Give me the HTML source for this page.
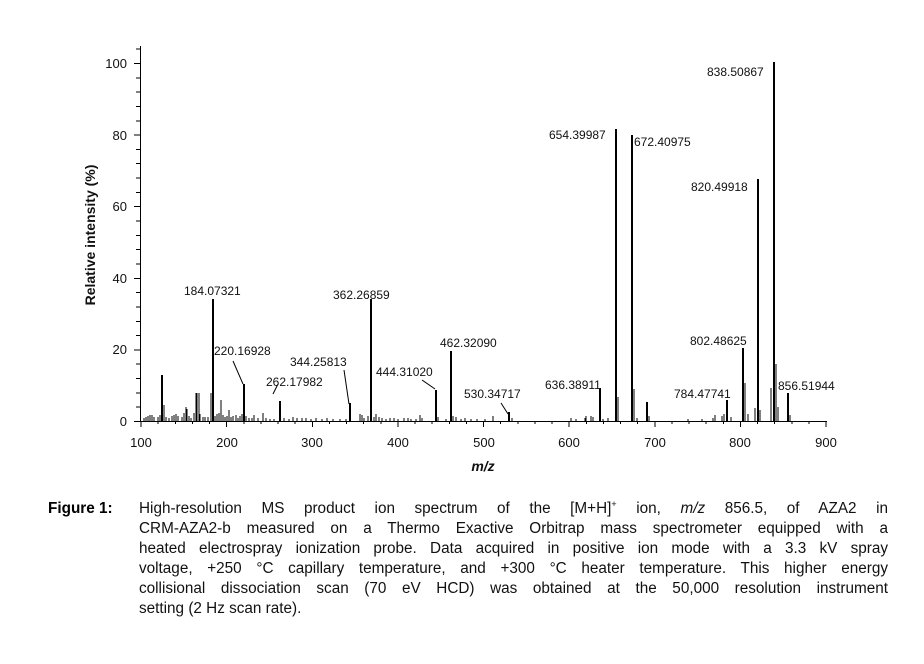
<!DOCTYPE html>
<html><head><meta charset="utf-8"><style>
body{margin:0;background:#fff;width:924px;height:664px;overflow:hidden;font-family:"Liberation Sans",Arial,sans-serif}
.cap{position:absolute;left:139px;width:749px;font-size:15.3px;line-height:20px;color:#111}
.cap div{text-align:justify;text-align-last:justify;white-space:nowrap}
.cap div.l{text-align-last:left}
</style></head><body>
<svg width="924" height="490" style="position:absolute;left:0;top:0" font-family="Liberation Sans, Arial, sans-serif">
<g stroke="#000" stroke-width="1" fill="none" shape-rendering="crispEdges">
<line x1="140.5" y1="46" x2="140.5" y2="421"/>
<line x1="140" y1="421.5" x2="827" y2="421.5"/>
<path d="M134 421.5h6M134 349.9h6M134 278.3h6M134 206.7h6M134 135.1h6M134 63.5h6
M136 407.2h4M136 392.9h4M136 378.6h4M136 364.2h4M136 335.6h4M136 321.3h4M136 306.9h4M136 292.6h4M136 264h4M136 249.7h4M136 235.4h4M136 221h4M136 192.4h4M136 178.1h4M136 163.7h4M136 149.4h4M136 120.8h4M136 106.5h4M136 92.1h4M136 77.8h4M136 49.2h4"/>
<path d="M141 421v6M226.6 421v6M312.3 421v6M397.9 421v6M483.5 421v6M569.1 421v6M654.8 421v6M740.4 421v6M826 421v6
M158.1 421v3M175.3 421v3M192.4 421v3M209.5 421v3M243.8 421v3M260.9 421v3M278 421v3M295.1 421v3M329.4 421v3M346.5 421v3M363.6 421v3M380.8 421v3M415 421v3M432.1 421v3M449.3 421v3M466.4 421v3M500.6 421v3M517.8 421v3M534.9 421v3M552 421v3M586.3 421v3M603.4 421v3M620.5 421v3M637.6 421v3M671.9 421v3M689 421v3M706.1 421v3M723.3 421v3M757.5 421v3M774.6 421v3M791.8 421v3M808.9 421v3"/>
</g>
<g stroke="#000" stroke-width="1" fill="none">
<path d="M233 361L243 384M273 394L278 384M344 370L349 404M422 380L435 389M501 403L508 414"/>
</g>
<g stroke="#000" stroke-width="2" shape-rendering="crispEdges">
<path d="M162 421V375M213 421V299M244 421V384M280 421V401M350 421V403M371 421V299M436 421V390M451 421V351M509 421V412M600 421V388M616 421V129M632 421V135M647 421V402M727 421V400M743 421V348M758 421V179M774 421V62M788 421V393"/>
</g>
<g stroke="#000" stroke-width="1" shape-rendering="crispEdges">
<path d="M144 421v-3M146 421v-4M148 421v-5M150 421v-6M152 421v-6M154 421v-4M158 421v-4M160 421v-6M164 421v-16M166 421v-4M169 421v-3M172 421v-5M174 421v-6M176 421v-7M178 421v-5M182 421v-4M184 421v-8M186 421v-14M187 421v-12M189 421v-5M191 421v-3M194 421v-8M196 421v-28M197 421v-28M199 421v-28M200 421v-7M203 421v-4M205 421v-4M208 421v-4M211 421v-28M215 421v-5M217 421v-7M219 421v-8M221 421v-21M223 421v-6M225 421v-4M227 421v-5M229 421v-11M231 421v-4M233 421v-5M236 421v-6M238 421v-3M240 421v-5M242 421v-7M246 421v-5M249 421v-3M252 421v-3M254 421v-6M258 421v-3M263 421v-8M266 421v-3M270 421v-2M274 421v-2M284 421v-3M289 421v-2M293 421v-4M297 421v-3M302 421v-3M306 421v-3M311 421v-2M316 421v-3M322 421v-2M327 421v-3M333 421v-2M340 421v-2M346 421v-2M360 421v-7M362 421v-6M364 421v-3M368 421v-5M374 421v-4M376 421v-7M379 421v-4M382 421v-3M386 421v-2M390 421v-3M394 421v-3M398 421v-2M404 421v-3M408 421v-3M411 421v-2M416 421v-2M420 421v-6M422 421v-3M438 421v-4M446 421v-2M453 421v-5M456 421v-4M461 421v-2M465 421v-3M471 421v-2M477 421v-2M485 421v-2M493 421v-5M512 421v-3M571 421v-3M576 421v-2M585 421v-3M586 421v-5M591 421v-5M593 421v-4M603 421v-2M608 421v-3M618 421v-24M634 421v-32M637 421v-3M649 421v-5M688 421v-2M702 421v-2M713 421v-3M715 421v-6M722 421v-5M724 421v-7M731 421v-4M745 421v-38M748 421v-7M755 421v-13M760 421v-11M771 421v-33M776 421v-57M778 421v-14M790 421v-6"/>
</g>
<g font-size="12" fill="#111">
<g font-size="13" text-anchor="end">
<text x="127" y="426">0</text><text x="127" y="354">20</text><text x="127" y="283">40</text><text x="127" y="211">60</text><text x="127" y="140">80</text><text x="127" y="68">100</text>
</g>
<g font-size="13" text-anchor="middle">
<text x="141" y="447">100</text><text x="227" y="447">200</text><text x="312" y="447">300</text><text x="398" y="447">400</text><text x="484" y="447">500</text><text x="569" y="447">600</text><text x="655" y="447">700</text><text x="740" y="447">800</text><text x="826" y="447">900</text>
</g>
<text x="483" y="471" font-size="14" font-weight="bold" font-style="italic" text-anchor="middle">m/z</text>
<text transform="translate(95,235) rotate(-90)" font-size="14" font-weight="bold" text-anchor="middle">Relative intensity (%)</text>
<text x="184" y="295">184.07321</text>
<text x="214" y="355">220.16928</text>
<text x="266" y="386">262.17982</text>
<text x="290" y="366">344.25813</text>
<text x="333" y="299">362.26859</text>
<text x="376" y="376">444.31020</text>
<text x="440" y="347">462.32090</text>
<text x="464" y="398">530.34717</text>
<text x="545" y="389">636.38911</text>
<text x="549" y="139">654.39987</text>
<text x="634" y="146">672.40975</text>
<text x="674" y="398">784.47741</text>
<text x="690" y="345">802.48625</text>
<text x="691" y="191">820.49918</text>
<text x="707" y="76">838.50867</text>
<text x="778" y="390">856.51944</text>
</g>
</svg>
<div style="position:absolute;left:48px;top:499px;font-size:15.3px;line-height:20px;font-weight:bold">Figure 1:</div>
<div class="cap" style="top:499px">
<div>High-resolution MS product ion spectrum of the [M+H]<sup style="font-size:9px;line-height:0">+</sup> ion, <i>m/z</i> 856.5, of AZA2 in</div>
<div>CRM-AZA2-b measured on a Thermo Exactive Orbitrap mass spectrometer equipped with a</div>
<div>heated electrospray ionization probe. Data acquired in positive ion mode with a 3.3 kV spray</div>
<div>voltage, +250 °C capillary temperature, and +300 °C heater temperature. This higher energy</div>
<div>collisional dissociation scan (70 eV HCD) was obtained at the 50,000 resolution instrument</div>
<div class="l">setting (2 Hz scan rate).</div>
</div>
</body></html>
